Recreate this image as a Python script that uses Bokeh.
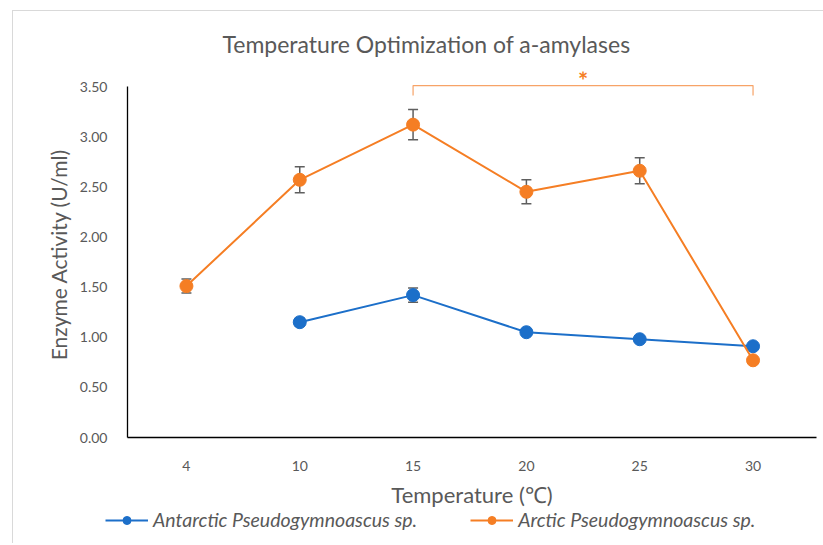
import numpy as np
from bokeh.plotting import figure
from bokeh.layouts import column
from bokeh.models import (ColumnDataSource, Whisker, TeeHead, FixedTicker, Legend, LegendItem,
                          Label, Range1d)
from bokeh.embed import file_html
from bokeh.resources import INLINE

# ---- data ----
temperatures = ["4", "10", "15", "20", "25", "30"]
arctic = [1.51, 2.57, 3.12, 2.45, 2.66, 0.77]
arctic_err = [0.07, 0.13, 0.15, 0.12, 0.13, 0.02]
antarctic = [np.nan, 1.15, 1.42, 1.05, 0.98, 0.91]
antarctic_err = [np.nan, 0.04, 0.07, 0.03, 0.03, 0.02]
y_ticks = [0.0, 0.5, 1.0, 1.5, 2.0, 2.5, 3.0, 3.5]
bracket_from, bracket_to = "15", "30"
series_names = ["Antarctic Pseudogymnoascus sp.", "Arctic Pseudogymnoascus sp."]

BLUE = "#1C6FC9"
ORANGE = "#F57E24"
TXT = "#595959"
FONT = "Lato"
BORDER = "1px solid #d9d9d9"

xi = list(range(len(temperatures)))

def src(vals, errs):
    v = np.array(vals, dtype=float)
    e = np.array(errs, dtype=float)
    return ColumnDataSource(dict(x=xi, y=v, lo=v - e, hi=v + e))

s_ant = src(antarctic, antarctic_err)
s_arc = src(arctic, arctic_err)

p = figure(output_backend="svg", toolbar_location=None,
           frame_width=688, frame_height=365,
           x_range=Range1d(-0.52, 5.56), y_range=Range1d(0, 3.65),
           min_border_left=114, min_border_right=8, min_border_top=60, min_border_bottom=70,
           margin=(10, 0, 0, 12),
           title="Temperature Optimization of a-amylases",
           styles={"border-left": BORDER, "border-top": BORDER})
p.outline_line_color = None
p.grid.visible = False

p.title.align = "left"
p.title.offset = 95
p.title.text_color = TXT
p.title.text_font = FONT
p.title.text_font_size = "23px"
p.title.text_font_style = "normal"
p.title.standoff = 28

# axes
p.xaxis.ticker = FixedTicker(ticks=xi)
p.xaxis.major_label_overrides = {i: t for i, t in enumerate(temperatures)}
p.yaxis.ticker = FixedTicker(ticks=y_ticks)
p.yaxis.major_label_overrides = {v: f"{v:.2f}" for v in y_ticks}
p.yaxis.bounds = (0, 3.5)
for ax in (p.xaxis[0], p.yaxis[0]):
    ax.axis_line_color = "black"
    ax.axis_line_width = 1.3
    ax.major_tick_line_color = None
    ax.minor_tick_line_color = None
    ax.major_label_text_color = TXT
    ax.major_label_text_font = FONT
    ax.major_label_text_font_size = "14px"
    ax.axis_label_text_color = TXT
    ax.axis_label_text_font = FONT
    ax.axis_label_text_font_style = "normal"
p.xaxis.axis_label_text_font_size = "22px"
p.yaxis.axis_label_text_font_size = "21px"
p.xaxis.axis_label = "Temperature (\u2103)"
p.yaxis.axis_label = "Enzyme Activity (U/ml)"
p.xaxis.major_label_standoff = 17
p.xaxis.axis_label_standoff = 7
p.yaxis.major_label_standoff = 14
p.yaxis.axis_label_standoff = 6

# series
def series(s, color):
    p.line("x", "y", source=s, color=color, line_width=2)
    w = Whisker(base="x", lower="lo", upper="hi", source=s, line_color="#5f5f5f", line_width=1.5,
                upper_head=TeeHead(size=10, line_color="#5f5f5f", line_width=1.5),
                lower_head=TeeHead(size=10, line_color="#5f5f5f", line_width=1.5))
    p.add_layout(w)
    p.scatter("x", "y", source=s, size=13, fill_color=color, line_color=color)

series(s_ant, BLUE)
series(s_arc, ORANGE)

# significance bracket
b0, b1 = temperatures.index(bracket_from), temperatures.index(bracket_to)
p.line([b0, b0, b1, b1], [3.41, 3.51, 3.51, 3.41], color="#F7A367", line_width=1.2)
p.add_layout(Label(x=(b0 + b1) / 2, y=3.56, text="*", text_color=ORANGE, text_font=FONT,
                   text_font_size="24px", text_font_style="bold", text_align="center",
                   text_baseline="middle"))

# ---- legend strip (separate figure below the chart) ----
lg = figure(output_backend="svg", toolbar_location=None,
            frame_width=810, frame_height=34, min_border=0,
            x_range=Range1d(0, 1), y_range=Range1d(0, 1),
            x_axis_type=None, y_axis_type=None,
            margin=(0, 0, 0, 12), styles={"border-left": BORDER})
lg.outline_line_color = None
lg.grid.visible = False
items = []
for name, color in zip(series_names, [BLUE, ORANGE]):
    # one off-screen point per key so the legend has glyphs to draw
    rl = lg.line(x=[-5, -4], y=[-5, -5], color=color, line_width=2)
    rs = lg.scatter(x=[-5], y=[-5], size=13, fill_color=color, line_color=color)
    items.append(LegendItem(label=name, renderers=[rl, rs]))
legend = Legend(items=items, orientation="horizontal", location=(92, 12),
                label_text_font=FONT, label_text_font_style="italic", label_text_font_size="19.5px",
                label_text_color=TXT, border_line_color=None, background_fill_alpha=0,
                glyph_width=43, spacing=53, padding=0, margin=0, label_standoff=5)
lg.add_layout(legend, "center")

layout = column(p, lg, spacing=0)
open("out.html", "w").write(file_html(layout, INLINE))
